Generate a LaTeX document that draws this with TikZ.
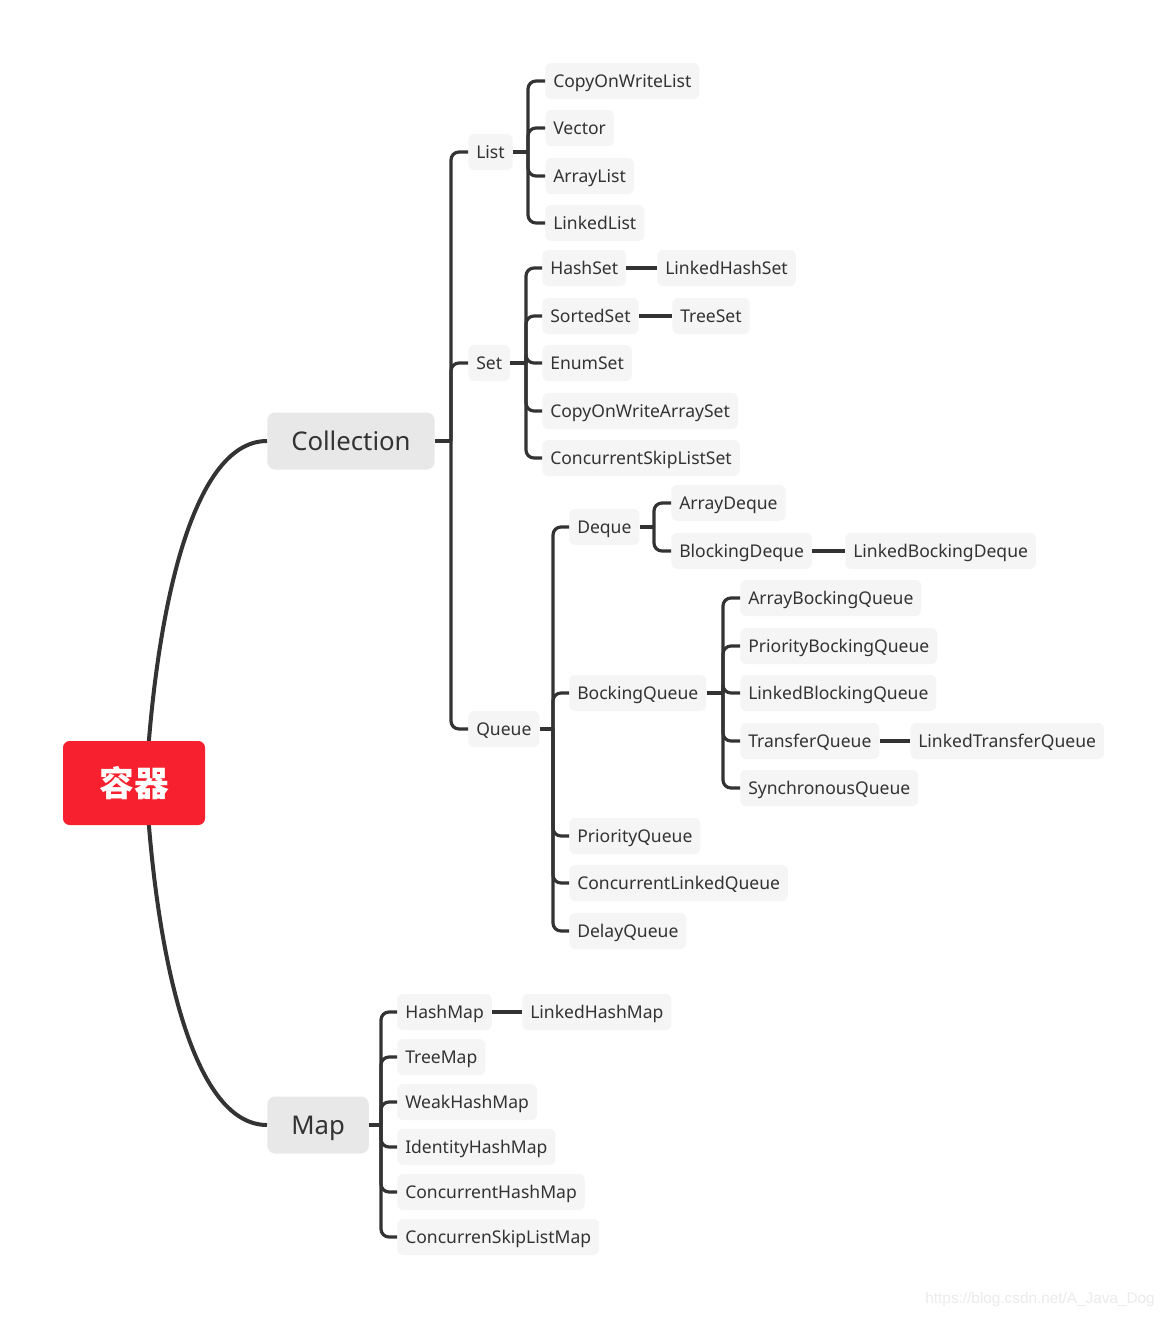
\documentclass[tikz,border=0pt]{standalone}
\usepackage{fontspec}
\setmainfont{Noto Sans}
\newfontfamily\cjk{Noto Sans CJK SC}
\newfontfamily\wm{Liberation Sans}
\definecolor{ln}{HTML}{333333}
\definecolor{leaf}{HTML}{F5F5F5}
\definecolor{mid}{HTML}{E8E8E8}
\definecolor{rootred}{HTML}{F7202E}
\definecolor{wmc}{HTML}{EBEBEB}
\begin{document}
\begin{tikzpicture}[x=0.75pt,y=-0.75pt,
 leafbox/.style={anchor=west, fill=leaf, rounded corners=4.5pt, minimum height=27pt, inner xsep=6pt, inner ysep=0pt, text height=10pt, text depth=0pt, text=ln, font=\fontsize{13.15}{16}\selectfont},
 topbox/.style={anchor=west, fill=mid, rounded corners=6pt, minimum height=42.75pt, inner xsep=18pt, inner ysep=0pt, text height=14.2pt, text depth=0pt, text=ln, font=\fontsize{19.3}{22}\selectfont},
 br/.style={draw=ln, line width=2.4pt},
 brc/.style={br, rounded corners=6pt},
 mainln/.style={draw=ln, line width=3pt},
]
\fill[white] (0,0) rectangle (1163,1318);
\useasboundingbox (0,0) rectangle (1163,1318);

% level 1
\node[topbox] (coll) at (267,441) {Collection};
\node[topbox] (map) at (267,1125) {Map};

\coordinate (rc) at (146,783);
\draw[mainln] (rc) .. controls (155,620) and (190,441) .. (coll.west);
\draw[mainln] (rc) .. controls (155,946) and (190,1125) .. (map.west);

\node[fill=rootred, rounded corners=5pt, minimum width=106.5pt, minimum height=63pt, text=white, font=\cjk\bfseries\fontsize{26}{28}\selectfont] (root) at (134,783) {容器};

% level 2
\node[leafbox] (list) at (468,152) {List};
\node[leafbox] (set) at (468,363) {Set};
\node[leafbox] (queue) at (468,729) {Queue};
\coordinate (jc) at (451,441);
\draw[br] (coll.east) -- (jc);
\foreach \c in {list,set,queue} \draw[brc] (jc) |- (\c.west);

% list
\node[leafbox] (cowl) at (545,81) {CopyOnWriteList};
\node[leafbox] (vec) at (545,128) {Vector};
\node[leafbox] (al) at (545,176) {ArrayList};
\node[leafbox] (ll) at (545,223) {LinkedList};
\coordinate (jl) at (528,152);
\draw[br] (list.east) -- (jl);
\foreach \c in {cowl,vec,al,ll} \draw[brc] (jl) |- (\c.west);

% set
\node[leafbox] (hs) at (542,268) {HashSet};
\node[leafbox] (ss) at (542,316) {SortedSet};
\node[leafbox] (es) at (542,363) {EnumSet};
\node[leafbox] (cowas) at (542,411) {CopyOnWriteArraySet};
\node[leafbox] (csls) at (542,458) {ConcurrentSkipListSet};
\node[leafbox] (lhs) at (657,268) {LinkedHashSet};
\node[leafbox] (ts) at (672,316) {TreeSet};
\coordinate (js) at (526,363);
\draw[br] (set.east) -- (js);
\foreach \c in {hs,ss,es,cowas,csls} \draw[brc] (js) |- (\c.west);
\draw[br] (hs.east) -- (lhs.west);
\draw[br] (ss.east) -- (ts.west);

% queue
\node[leafbox] (dq) at (569,527) {Deque};
\node[leafbox] (bq) at (569,693) {BockingQueue};
\node[leafbox] (pq) at (569,836) {PriorityQueue};
\node[leafbox] (clq) at (569,883) {ConcurrentLinkedQueue};
\node[leafbox] (dlq) at (569,931) {DelayQueue};
\coordinate (jq) at (553,729);
\draw[br] (queue.east) -- (jq);
\foreach \c in {dq,bq,pq,clq,dlq} \draw[brc] (jq) |- (\c.west);

% deque
\node[leafbox] (ad) at (671,503) {ArrayDeque};
\node[leafbox] (bd) at (671,551) {BlockingDeque};
\node[leafbox] (lbd) at (845,551) {LinkedBockingDeque};
\coordinate (jd) at (654,527);
\draw[br] (dq.east) -- (jd);
\foreach \c in {ad,bd} \draw[brc] (jd) |- (\c.west);
\draw[br] (bd.east) -- (lbd.west);

% blocking queue
\node[leafbox] (abq) at (740,598) {ArrayBockingQueue};
\node[leafbox] (pbq) at (740,646) {PriorityBockingQueue};
\node[leafbox] (lbq) at (740,693) {LinkedBlockingQueue};
\node[leafbox] (tq) at (740,741) {TransferQueue};
\node[leafbox] (sq) at (740,788) {SynchronousQueue};
\node[leafbox] (ltq) at (910,741) {LinkedTransferQueue};
\coordinate (jb) at (723,693);
\draw[br] (bq.east) -- (jb);
\foreach \c in {abq,pbq,lbq,tq,sq} \draw[brc] (jb) |- (\c.west);
\draw[br] (tq.east) -- (ltq.west);

% map
\node[leafbox] (hm) at (397,1012) {HashMap};
\node[leafbox] (tm) at (397,1057) {TreeMap};
\node[leafbox] (whm) at (397,1102) {WeakHashMap};
\node[leafbox] (ihm) at (397,1147) {IdentityHashMap};
\node[leafbox] (chm) at (397,1192) {ConcurrentHashMap};
\node[leafbox] (cslm) at (397,1237) {ConcurrenSkipListMap};
\node[leafbox] (lhm) at (522,1012) {LinkedHashMap};
\coordinate (jm) at (381,1125);
\draw[br] (map.east) -- (jm);
\foreach \c in {hm,tm,whm,ihm,chm,cslm} \draw[brc] (jm) |- (\c.west);
\draw[br] (hm.east) -- (lhm.west);

\node[anchor=east, text=wmc, font=\wm\fontsize{11.5}{13}\selectfont, inner sep=0pt] (wmk) at (1155,1300) {https://blog.csdn.net/A\_Java\_Dog};
\end{tikzpicture}
\end{document}
